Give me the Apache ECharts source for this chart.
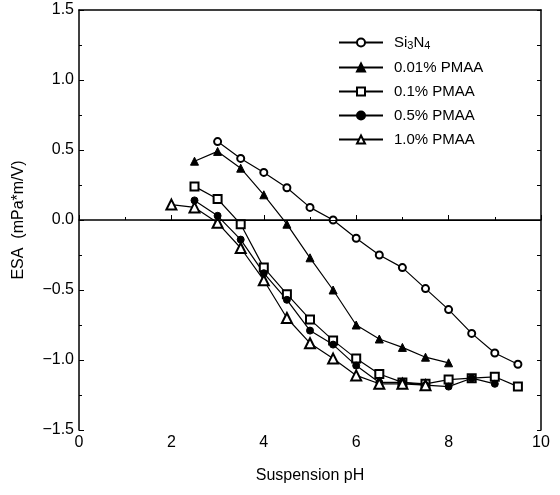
<!DOCTYPE html>
<html>
<head>
<meta charset="utf-8">
<script src="https://cdn.jsdelivr.net/npm/echarts@6/dist/echarts.min.js"></script>
<style>
  html, body { margin: 0; padding: 0; background: #fff; }
  #chart { width: 560px; height: 495px; }
</style>
</head>
<body>
<div id="chart"></div>
<script>
// values (pH, ESA)
const phSi3N4 = [3, 3.5, 4, 4.5, 5, 5.5, 6, 6.5, 7, 7.5, 8, 8.5, 9, 9.5]
const esaSi3N4 = [0.56, 0.44, 0.34, 0.23, 0.09, 0.0, -0.13, -0.25, -0.34, -0.49, -0.64, -0.81, -0.95, -1.03]

const ph001 = [2.5, 3, 3.5, 4, 4.5, 5, 5.5, 6, 6.5, 7, 7.5, 8]
const esa001 = [0.42, 0.49, 0.37, 0.18, -0.03, -0.27, -0.5, -0.75, -0.85, -0.91, -0.98, -1.02]

const ph01 = [2.5, 3, 3.5, 4, 4.5, 5, 5.5, 6, 6.5, 7, 7.5, 8, 8.5, 9, 9.5]
const esa01 = [0.24, 0.15, -0.03, -0.34, -0.53, -0.71, -0.86, -0.99, -1.1, -1.16, -1.17, -1.14, -1.13, -1.12, -1.19]

const ph05 = [2.5, 3, 3.5, 4, 4.5, 5, 5.5, 6, 6.5, 7, 7.5, 8, 8.5, 9]
const esa05 = [0.14, 0.03, -0.14, -0.38, -0.57, -0.79, -0.89, -1.04, -1.16, -1.16, -1.18, -1.19, -1.13, -1.17]

const ph10 = [2, 2.5, 3, 3.5, 4, 4.5, 5, 5.5, 6, 6.5, 7, 7.5]
const esa10 = [0.11, 0.09, -0.02, -0.2, -0.43, -0.7, -0.88, -0.99, -1.11, -1.17, -1.17, -1.18]

const seriesNames = ['Si3N4', '0.01% PMAA', '0.1% PMAA', '0.5% PMAA', '1.0% PMAA']
const xTicks = [0, 2, 4, 6, 8, 10]
const zeroLineFrom = 1.75

const pairs = (xs, ys) => xs.map((x, i) => [x, ys[i]])
const font = 'Liberation Sans, Arial, sans-serif'

const myChart = echarts.init(document.getElementById('chart'))

function mkSeries(name, data, symbol, size) {
  return {
    name: name,
    type: 'line',
    data: data,
    symbol: symbol,
    symbolSize: size,
    itemStyle: { color: '#000', borderColor: '#000', borderWidth: 1 },
    lineStyle: { color: '#000', width: 1.2 },
    emphasis: { disabled: true },
    animation: false
  }
}

const series = [
  mkSeries(seriesNames[0], pairs(phSi3N4, esaSi3N4), 'emptyCircle', 7),
  mkSeries(seriesNames[1], pairs(ph001, esa001), 'triangle', 8),
  mkSeries(seriesNames[2], pairs(ph01, esa01), 'emptyRect', 8),
  mkSeries(seriesNames[3], pairs(ph05, esa05), 'circle', 7),
  mkSeries(seriesNames[4], pairs(ph10, esa10), 'emptyTriangle', 10)
]
// thin zero reference line
series[0].markLine = {
  silent: true,
  symbol: 'none',
  label: { show: false },
  lineStyle: { color: '#000', width: 1, type: 'solid' },
  data: [[{ coord: [zeroLineFrom, 0] }, { coord: [10, 0] }]]
}

myChart.setOption({
  backgroundColor: '#fff',
  animation: false,
  grid: { left: 79, right: 19, top: 10, bottom: 65 },
  legend: {
    data: seriesNames,
    orient: 'vertical',
    left: 333,
    top: 30,
    itemWidth: 44,
    itemHeight: 10,
    itemGap: 9,
    formatter: function (name) {
      return name === 'Si3N4' ? 'Si{s|3}N{s|4}' : name
    },
    textStyle: {
      fontFamily: font,
      fontSize: 15,
      color: '#000',
      padding: [0, 0, 0, 6],
      rich: {
        s: { fontFamily: font, fontSize: 11, color: '#000', verticalAlign: 'bottom', padding: [6, 0, 0, 0] }
      }
    }
  },
  xAxis: [
    {
      type: 'value',
      min: 0,
      max: 10,
      interval: 2,
      name: 'Suspension pH',
      nameLocation: 'middle',
      nameGap: 38,
      nameTextStyle: { fontFamily: font, fontSize: 16, color: '#000' },
      axisLine: { show: true, lineStyle: { color: '#000', width: 1.5 } },
      axisTick: { show: true, inside: true, length: 5, lineStyle: { color: '#000' } },
      minorTick: { show: true, splitNumber: 2, length: 3, lineStyle: { color: '#000' } },
      axisLabel: {
        fontFamily: font, fontSize: 16, color: '#000', margin: 5,
        formatter: v => xTicks.includes(v) ? String(v) : ''
      },
      splitLine: { show: false }
    },
    {
      type: 'value',
      position: 'top',
      min: 0,
      max: 10,
      interval: 2,
      axisLine: { show: true, onZero: false, lineStyle: { color: '#000', width: 1.5 } },
      axisTick: { show: false },
      axisLabel: { show: false },
      splitLine: { show: false }
    }
  ],
  yAxis: [
    {
      type: 'value',
      min: -1.5,
      max: 1.5,
      interval: 0.5,
      name: 'ESA  (mPa*m/V)',
      nameLocation: 'middle',
      nameGap: 52,
      nameTextStyle: { fontFamily: font, fontSize: 16, color: '#000' },
      axisLine: { show: true, onZero: false, lineStyle: { color: '#000', width: 1.5 } },
      axisTick: { show: true, inside: true, length: 5, lineStyle: { color: '#000' } },
      minorTick: { show: true, splitNumber: 2, length: 3, lineStyle: { color: '#000' } },
      axisLabel: {
        fontFamily: font, fontSize: 16, color: '#000', margin: 5,
        formatter: v => (v < 0 ? '\u2212' : '') + Math.abs(v).toFixed(1)
      },
      splitLine: { show: false }
    },
    {
      type: 'value',
      position: 'right',
      min: -1.5,
      max: 1.5,
      interval: 0.25,
      axisLine: { show: true, onZero: false, lineStyle: { color: '#000', width: 1.5 } },
      axisTick: { show: true, inside: true, length: 4, lineStyle: { color: '#000' } },
      axisLabel: { show: false },
      splitLine: { show: false }
    }
  ],
  series: series
})
</script>
</body>
</html>
